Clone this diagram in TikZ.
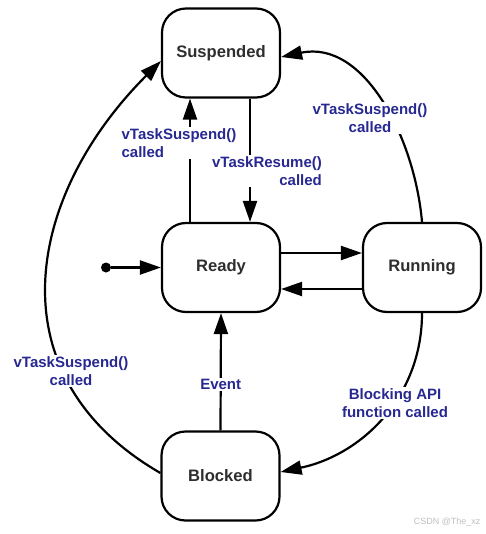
\documentclass[tikz,border=0pt]{standalone}
\usepackage{fontspec}
\setmainfont{Liberation Sans}
\usepackage{xcolor}
\usepackage{tikz}
\usetikzlibrary{arrows.meta, positioning}

\definecolor{lblblue}{RGB}{40,40,145}

\begin{document}
\begin{tikzpicture}[x=1pt, y=1pt,
        state/.style={rectangle, draw=black, line width=2.2pt, rounded corners=24pt, minimum width=118pt, minimum height=89pt, font=\fontsize{16.6}{19}\selectfont\bfseries, text=black!82},
        lbl/.style={fill=white, text=lblblue, font=\fontsize{15}{18}\selectfont\bfseries, inner sep=1.5pt},
        arr/.style={line width=2.2pt, -{Triangle[length=21pt, width=14pt]}}
    ]
        \useasboundingbox (0,0) rectangle (485,-534);

        % States
        \node[state] (susp) at (221,-53) {Suspended};
        \node[state] (ready) at (221,-267.5) {Ready};
        \node[state] (run) at (422,-267.5) {Running};
        \node[state] (block) at (220.5,-476) {Blocked};

        % Initial state
        \node[circle, fill=black, inner sep=0pt, minimum size=10pt] (init) at (106,-267.5) {};
        \draw[arr] (init) -- (ready.west);

        % Ready <-> Running
        \draw[arr] ([yshift=14.5pt]ready.east) -- ([yshift=14.5pt]run.west);
        \draw[arr] ([yshift=-21.5pt]run.west) -- ([yshift=-21.5pt]ready.east);

        % Ready <-> Suspended
        \draw[arr] ([xshift=-31pt]ready.north) -- node[lbl, align=left, pos=0.64, xshift=-11pt] {vTaskSuspend()\\called} ([xshift=-31pt]susp.south);
        \draw[arr] ([xshift=29pt]susp.south) -- node[lbl, align=right, pos=0.59, xshift=17pt] {vTaskResume()\\called} ([xshift=29pt]ready.north);

        % Blocked -> Ready
        \draw[arr] (block.north) -- node[lbl, pos=0.39] {Event} (ready.south);

        % Curved transitions
        \draw[arr] (run.north) to[out=95, in=12] ([yshift=-4pt]susp.east);
        \draw[arr] (run.south) to[out=-90, in=12] ([yshift=4pt]block.east);
        \draw[arr] ([yshift=3pt]block.west) to[out=150, in=225, looseness=1.2] ([yshift=-8pt]susp.west);

        % Labels of curved transitions
        \node[lbl, align=center] (l_run) at (370,-118) {vTaskSuspend()\\called};
        \node[lbl, align=center] (l_api) at (395,-403) {Blocking API\\function called};
        \node[lbl, align=center] (l_blk) at (71,-371) {vTaskSuspend()\\called};

        \node[text=black!25, font=\fontsize{9}{10}\selectfont, anchor=east] (mark) at (484,-522) {CSDN @The\_xz};
    \end{tikzpicture}
\end{document}
